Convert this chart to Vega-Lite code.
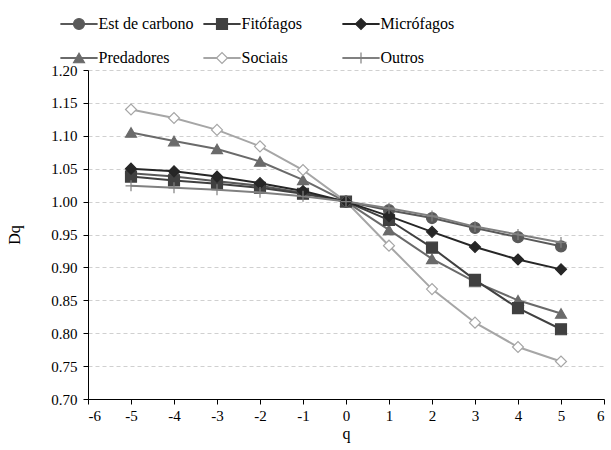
{
  "$schema": "https://vega.github.io/schema/vega-lite/v6.json",
  "width": 516,
  "height": 329,
  "autosize": {"type": "none"},
  "padding": {"left": 88, "top": 70, "right": 7, "bottom": 51},
  "background": "white",
  "config": {"view": {"stroke": null}, "font": "Liberation Serif, Times New Roman, Liberation Sans, sans-serif"},
  "datasets": {
    "dq": [
      {"serie": "Est de carbono", "q": -5, "dq": 1.043},
      {"serie": "Est de carbono", "q": -4, "dq": 1.038},
      {"serie": "Est de carbono", "q": -3, "dq": 1.031},
      {"serie": "Est de carbono", "q": -2, "dq": 1.024},
      {"serie": "Est de carbono", "q": -1, "dq": 1.013},
      {"serie": "Est de carbono", "q": 0, "dq": 1.0},
      {"serie": "Est de carbono", "q": 1, "dq": 0.987},
      {"serie": "Est de carbono", "q": 2, "dq": 0.975},
      {"serie": "Est de carbono", "q": 3, "dq": 0.96},
      {"serie": "Est de carbono", "q": 4, "dq": 0.946},
      {"serie": "Est de carbono", "q": 5, "dq": 0.932},
      {"serie": "Fitófagos", "q": -5, "dq": 1.038},
      {"serie": "Fitófagos", "q": -4, "dq": 1.032},
      {"serie": "Fitófagos", "q": -3, "dq": 1.027},
      {"serie": "Fitófagos", "q": -2, "dq": 1.021},
      {"serie": "Fitófagos", "q": -1, "dq": 1.012},
      {"serie": "Fitófagos", "q": 0, "dq": 1.0},
      {"serie": "Fitófagos", "q": 1, "dq": 0.972},
      {"serie": "Fitófagos", "q": 2, "dq": 0.93},
      {"serie": "Fitófagos", "q": 3, "dq": 0.881},
      {"serie": "Fitófagos", "q": 4, "dq": 0.838},
      {"serie": "Fitófagos", "q": 5, "dq": 0.806},
      {"serie": "Micrófagos", "q": -5, "dq": 1.05},
      {"serie": "Micrófagos", "q": -4, "dq": 1.046},
      {"serie": "Micrófagos", "q": -3, "dq": 1.038},
      {"serie": "Micrófagos", "q": -2, "dq": 1.028},
      {"serie": "Micrófagos", "q": -1, "dq": 1.016},
      {"serie": "Micrófagos", "q": 0, "dq": 1.0},
      {"serie": "Micrófagos", "q": 1, "dq": 0.978},
      {"serie": "Micrófagos", "q": 2, "dq": 0.954},
      {"serie": "Micrófagos", "q": 3, "dq": 0.931},
      {"serie": "Micrófagos", "q": 4, "dq": 0.912},
      {"serie": "Micrófagos", "q": 5, "dq": 0.897},
      {"serie": "Predadores", "q": -5, "dq": 1.105},
      {"serie": "Predadores", "q": -4, "dq": 1.092},
      {"serie": "Predadores", "q": -3, "dq": 1.08},
      {"serie": "Predadores", "q": -2, "dq": 1.061},
      {"serie": "Predadores", "q": -1, "dq": 1.033},
      {"serie": "Predadores", "q": 0, "dq": 1.0},
      {"serie": "Predadores", "q": 1, "dq": 0.957},
      {"serie": "Predadores", "q": 2, "dq": 0.913},
      {"serie": "Predadores", "q": 3, "dq": 0.878},
      {"serie": "Predadores", "q": 4, "dq": 0.85},
      {"serie": "Predadores", "q": 5, "dq": 0.83},
      {"serie": "Sociais", "q": -5, "dq": 1.14},
      {"serie": "Sociais", "q": -4, "dq": 1.127},
      {"serie": "Sociais", "q": -3, "dq": 1.109},
      {"serie": "Sociais", "q": -2, "dq": 1.084},
      {"serie": "Sociais", "q": -1, "dq": 1.048},
      {"serie": "Sociais", "q": 0, "dq": 1.0},
      {"serie": "Sociais", "q": 1, "dq": 0.933},
      {"serie": "Sociais", "q": 2, "dq": 0.867},
      {"serie": "Sociais", "q": 3, "dq": 0.816},
      {"serie": "Sociais", "q": 4, "dq": 0.779},
      {"serie": "Sociais", "q": 5, "dq": 0.757},
      {"serie": "Outros", "q": -5, "dq": 1.024},
      {"serie": "Outros", "q": -4, "dq": 1.021},
      {"serie": "Outros", "q": -3, "dq": 1.018},
      {"serie": "Outros", "q": -2, "dq": 1.014},
      {"serie": "Outros", "q": -1, "dq": 1.008},
      {"serie": "Outros", "q": 0, "dq": 1.0},
      {"serie": "Outros", "q": 1, "dq": 0.99},
      {"serie": "Outros", "q": 2, "dq": 0.978},
      {"serie": "Outros", "q": 3, "dq": 0.962},
      {"serie": "Outros", "q": 4, "dq": 0.95},
      {"serie": "Outros", "q": 5, "dq": 0.938}
    ]
  },
  "data": {"name": "dq"},
  "encoding": {
    "x": {
      "field": "q", "type": "quantitative",
      "scale": {"domain": [-6, 6], "nice": false, "zero": false},
      "axis": {
        "title": "q", "values": [-6, -5, -4, -3, -2, -1, 0, 1, 2, 3, 4, 5, 6],
        "labelExpr": "datum.value < 0 ? '-' + abs(datum.value) : '' + datum.value",
        "grid": false, "domainColor": "#000000", "tickColor": "#000000", "tickSize": 5,
        "labelFontSize": 15, "labelColor": "#000000", "labelPadding": 4,
        "titleFontSize": 16, "titleFontWeight": "normal", "titleColor": "#000000", "titlePadding": 2
      }
    },
    "y": {
      "field": "dq", "type": "quantitative",
      "scale": {"domain": [0.7, 1.2], "nice": false, "zero": false},
      "axis": {
        "title": "Dq", "values": [0.7, 0.75, 0.8, 0.85, 0.9, 0.95, 1.0, 1.05, 1.1, 1.15, 1.2], "format": ".2f",
        "grid": true, "gridColor": "#d0d0d0", "gridDash": [4, 3], "gridWidth": 1,
        "domainColor": "#000000", "tickColor": "#000000", "tickSize": 5,
        "labelFontSize": 15, "labelColor": "#000000", "labelPadding": 6,
        "titleFontSize": 16, "titleFontWeight": "normal", "titleColor": "#000000", "titlePadding": 28
      }
    }
  },
  "layer": [
    {
      "transform": [{"filter": {"field": "serie", "oneOf": ["Est de carbono", "Predadores"]}}],
      "mark": {"type": "line", "strokeWidth": 2},
      "encoding": {
        "stroke": {
          "field": "serie", "type": "nominal",
          "scale": {"domain": ["Est de carbono", "Fitófagos", "Micrófagos", "Predadores", "Sociais", "Outros"],
                    "range": ["#595959", "#404040", "#262626", "#6a6a6a", "#a6a6a6", "#808080"]},
          "legend": {"title": null, "orient": "none", "legendX": -17, "legendY": -54, "direction": "vertical",
            "values": ["Est de carbono", "Predadores"], "rowPadding": 18, "padding": 0,
            "symbolType": "M-3.4,0H3.4", "symbolSize": 120, "symbolStrokeWidth": 2,
            "labelOffset": 11.5, "labelFontSize": 16, "labelLimit": 300, "labelOpacity": 0}
        }
      }
    },
    {
      "transform": [{"filter": {"field": "serie", "oneOf": ["Est de carbono", "Predadores"]}}],
      "mark": {"type": "point", "filled": true, "size": 120, "strokeWidth": 1.2, "opacity": 1},
      "encoding": {
        "stroke": {"field": "serie", "type": "nominal",
          "legend": {"title": null, "orient": "none", "legendX": -17, "legendY": -54, "direction": "vertical",
            "values": ["Est de carbono", "Predadores"], "rowPadding": 18, "padding": 0, "symbolSize": 120, "symbolStrokeWidth": 1.2,
            "labelOffset": 11.5, "labelFontSize": 16, "labelLimit": 300, "labelColor": "#000000"}},
        "fill": {"field": "serie", "type": "nominal",
          "scale": {"domain": ["Est de carbono", "Fitófagos", "Micrófagos", "Predadores", "Sociais", "Outros"],
                    "range": ["#595959", "#404040", "#262626", "#6a6a6a", "#ffffff", "#808080"]},
          "legend": {"title": null, "orient": "none", "legendX": -17, "legendY": -54, "direction": "vertical",
            "values": ["Est de carbono", "Predadores"], "rowPadding": 18, "padding": 0, "symbolSize": 120, "symbolStrokeWidth": 1.2,
            "labelOffset": 11.5, "labelFontSize": 16, "labelLimit": 300, "labelColor": "#000000"}},
        "shape": {"field": "serie", "type": "nominal",
          "scale": {"domain": ["Est de carbono", "Fitófagos", "Micrófagos", "Predadores", "Sociais", "Outros"],
                    "range": ["circle", "square", "diamond", "triangle-up", "diamond", "M-1,0H1M0,-1V1"]},
          "legend": {"title": null, "orient": "none", "legendX": -17, "legendY": -54, "direction": "vertical",
            "values": ["Est de carbono", "Predadores"], "rowPadding": 18, "padding": 0, "symbolSize": 120, "symbolStrokeWidth": 1.2,
            "labelOffset": 11.5, "labelFontSize": 16, "labelLimit": 300, "labelColor": "#000000"}}
      }
    },
    {
      "transform": [{"filter": {"field": "serie", "oneOf": ["Fitófagos", "Sociais"]}}],
      "mark": {"type": "line", "strokeWidth": 2},
      "encoding": {
        "stroke": {"field": "serie", "type": "nominal",
          "legend": {"title": null, "orient": "none", "legendX": 126, "legendY": -54, "direction": "vertical",
            "values": ["Fitófagos", "Sociais"], "rowPadding": 18, "padding": 0,
            "symbolType": "M-3.4,0H3.4", "symbolSize": 120, "symbolStrokeWidth": 2,
            "labelOffset": 11.5, "labelFontSize": 16, "labelLimit": 300, "labelOpacity": 0}}
      }
    },
    {
      "transform": [{"filter": {"field": "serie", "oneOf": ["Fitófagos", "Sociais"]}}],
      "mark": {"type": "point", "filled": true, "size": 120, "strokeWidth": 1.2, "opacity": 1},
      "encoding": {
        "stroke": {"field": "serie", "type": "nominal",
          "legend": {"title": null, "orient": "none", "legendX": 126, "legendY": -54, "direction": "vertical",
            "values": ["Fitófagos", "Sociais"], "rowPadding": 18, "padding": 0, "symbolSize": 120, "symbolStrokeWidth": 1.2,
            "labelOffset": 11.5, "labelFontSize": 16, "labelLimit": 300, "labelColor": "#000000"}},
        "fill": {"field": "serie", "type": "nominal",
          "legend": {"title": null, "orient": "none", "legendX": 126, "legendY": -54, "direction": "vertical",
            "values": ["Fitófagos", "Sociais"], "rowPadding": 18, "padding": 0, "symbolSize": 120, "symbolStrokeWidth": 1.2,
            "labelOffset": 11.5, "labelFontSize": 16, "labelLimit": 300, "labelColor": "#000000"}},
        "shape": {"field": "serie", "type": "nominal",
          "legend": {"title": null, "orient": "none", "legendX": 126, "legendY": -54, "direction": "vertical",
            "values": ["Fitófagos", "Sociais"], "rowPadding": 18, "padding": 0, "symbolSize": 120, "symbolStrokeWidth": 1.2,
            "labelOffset": 11.5, "labelFontSize": 16, "labelLimit": 300, "labelColor": "#000000"}}
      }
    },
    {
      "transform": [{"filter": {"field": "serie", "oneOf": ["Micrófagos", "Outros"]}}],
      "mark": {"type": "line", "strokeWidth": 2},
      "encoding": {
        "stroke": {"field": "serie", "type": "nominal",
          "legend": {"title": null, "orient": "none", "legendX": 265, "legendY": -54, "direction": "vertical",
            "values": ["Micrófagos", "Outros"], "rowPadding": 18, "padding": 0,
            "symbolType": "M-3.4,0H3.4", "symbolSize": 120, "symbolStrokeWidth": 2,
            "labelOffset": 11.5, "labelFontSize": 16, "labelLimit": 300, "labelOpacity": 0}}
      }
    },
    {
      "transform": [{"filter": {"field": "serie", "oneOf": ["Micrófagos", "Outros"]}}],
      "mark": {"type": "point", "filled": true, "size": 120, "strokeWidth": 1.2, "opacity": 1},
      "encoding": {
        "stroke": {"field": "serie", "type": "nominal",
          "legend": {"title": null, "orient": "none", "legendX": 265, "legendY": -54, "direction": "vertical",
            "values": ["Micrófagos", "Outros"], "rowPadding": 18, "padding": 0, "symbolSize": 120, "symbolStrokeWidth": 1.2,
            "labelOffset": 11.5, "labelFontSize": 16, "labelLimit": 300, "labelColor": "#000000"}},
        "fill": {"field": "serie", "type": "nominal",
          "legend": {"title": null, "orient": "none", "legendX": 265, "legendY": -54, "direction": "vertical",
            "values": ["Micrófagos", "Outros"], "rowPadding": 18, "padding": 0, "symbolSize": 120, "symbolStrokeWidth": 1.2,
            "labelOffset": 11.5, "labelFontSize": 16, "labelLimit": 300, "labelColor": "#000000"}},
        "shape": {"field": "serie", "type": "nominal",
          "legend": {"title": null, "orient": "none", "legendX": 265, "legendY": -54, "direction": "vertical",
            "values": ["Micrófagos", "Outros"], "rowPadding": 18, "padding": 0, "symbolSize": 120, "symbolStrokeWidth": 1.2,
            "labelOffset": 11.5, "labelFontSize": 16, "labelLimit": 300, "labelColor": "#000000"}}
      }
    }
  ],
  "resolve": {"legend": {"stroke": "independent", "fill": "independent", "shape": "independent"}}
}
